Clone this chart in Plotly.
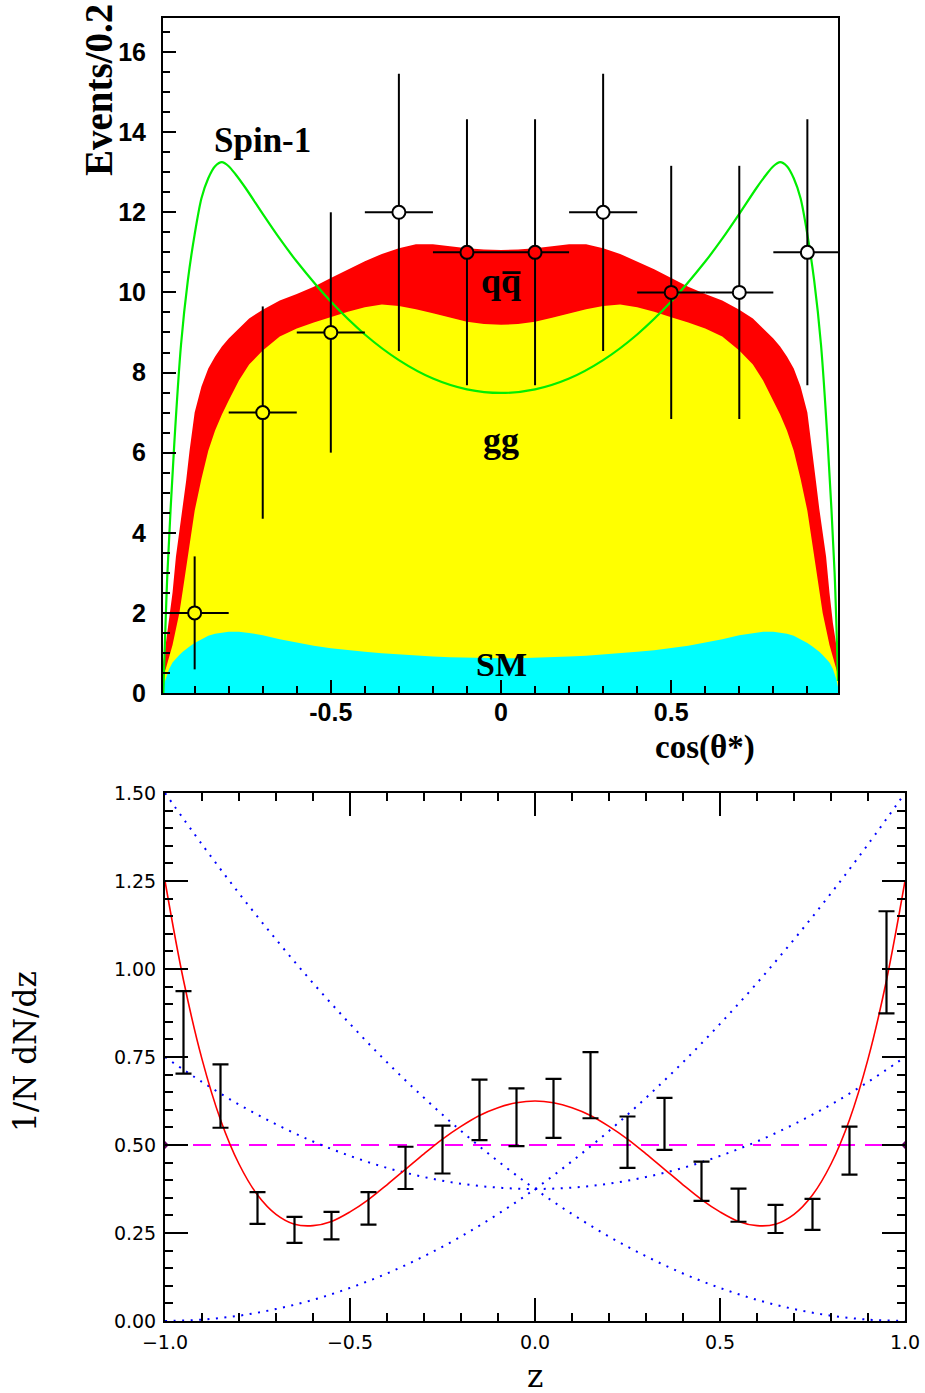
import plotly.graph_objects as go

W, H = 925, 1393

# ---------------- upper panel: cos(theta*) ----------------
cos_bins = [-0.993, -0.985, -0.975, -0.965, -0.955, -0.945, -0.935, -0.925, -0.915,
            -0.90, -0.88, -0.86, -0.84, -0.82, -0.80, -0.77, -0.74, -0.70, -0.65,
            -0.60, -0.55, -0.50, -0.45, -0.40, -0.35, -0.30, -0.25, -0.20, -0.15,
            -0.10, -0.05, 0.00, 0.05, 0.10, 0.15, 0.20, 0.25, 0.30, 0.35, 0.40,
            0.45, 0.50, 0.55, 0.60, 0.65, 0.70, 0.74, 0.77, 0.80, 0.82, 0.84,
            0.86, 0.88, 0.90, 0.915, 0.925, 0.935, 0.945, 0.955, 0.965, 0.975,
            0.985, 0.99]

sm_events = [0.15, 0.35, 0.60, 0.76, 0.86, 0.95, 1.03, 1.10, 1.16, 1.25, 1.35, 1.43,
             1.48, 1.51, 1.53, 1.53, 1.50, 1.44, 1.34, 1.26, 1.18, 1.12, 1.07, 1.03,
             0.99, 0.96, 0.93, 0.91, 0.89, 0.88, 0.87, 0.87, 0.87, 0.88, 0.89, 0.91,
             0.93, 0.96, 0.99, 1.03, 1.07, 1.12, 1.18, 1.26, 1.34, 1.44, 1.50, 1.53,
             1.53, 1.51, 1.48, 1.43, 1.35, 1.25, 1.16, 1.10, 1.03, 0.95, 0.86, 0.76,
             0.60, 0.35, 0.15]

gg_events = [0.30, 0.25, 0.30, 0.44, 0.74, 1.05, 1.52, 2.05, 2.54, 3.30, 4.00, 4.62,
             5.07, 5.44, 5.77, 6.27, 6.70, 7.11, 7.56, 7.84, 8.07, 8.26, 8.45, 8.60,
             8.71, 8.70, 8.65, 8.57, 8.48, 8.39, 8.34, 8.32, 8.34, 8.39, 8.48, 8.57,
             8.65, 8.70, 8.71, 8.60, 8.45, 8.26, 8.07, 7.84, 7.56, 7.11, 6.70, 6.27,
             5.77, 5.44, 5.07, 4.62, 4.00, 3.30, 2.54, 2.05, 1.52, 1.05, 0.74, 0.44,
             0.30, 0.25, 0.30]

qq_events = [0.25, 0.60, 0.85, 1.30, 1.80, 2.00, 2.05, 2.15, 2.35, 2.45, 2.30, 2.05,
             1.85, 1.70, 1.55, 1.30, 1.15, 1.02, 0.90, 0.86, 0.89, 0.98, 1.06, 1.15,
             1.26, 1.44, 1.62, 1.72, 1.78, 1.83, 1.86, 1.87, 1.86, 1.83, 1.78, 1.72,
             1.62, 1.44, 1.26, 1.15, 1.06, 0.98, 0.89, 0.86, 0.90, 1.02, 1.15, 1.30,
             1.55, 1.70, 1.85, 2.05, 2.30, 2.45, 2.35, 2.15, 2.05, 2.00, 1.80, 1.30,
             0.85, 0.60, 0.25]

spin1_x = [-0.992, -0.98, -0.96, -0.94, -0.92, -0.90, -0.88, -0.86, -0.84, -0.82,
           -0.80, -0.78, -0.75, -0.70, -0.65, -0.60, -0.50, -0.40, -0.30, -0.20,
           -0.10, 0.00, 0.10, 0.20, 0.30, 0.40, 0.50, 0.60, 0.65, 0.70, 0.75, 0.78,
           0.80, 0.82, 0.84, 0.86, 0.88, 0.90, 0.92, 0.94, 0.96, 0.98, 0.99]
spin1_y = [0.0, 3.0, 6.2, 8.7, 10.3, 11.45, 12.35, 12.85, 13.15, 13.25,
           13.15, 12.95, 12.6, 11.96, 11.34, 10.77, 9.77, 8.95, 8.31, 7.85,
           7.58, 7.49, 7.58, 7.85, 8.31, 8.95, 9.77, 10.77, 11.34, 11.96, 12.6, 12.95,
           13.15, 13.25, 13.15, 12.85, 12.35, 11.45, 10.3, 8.7, 6.2, 3.0, 0.3]

data_x = [-0.9, -0.7, -0.5, -0.3, -0.1, 0.1, 0.3, 0.5, 0.7, 0.9]
data_n = [2, 7, 9, 12, 11, 11, 12, 10, 10, 11]
data_err = [1.41, 2.65, 3.00, 3.46, 3.32, 3.32, 3.46, 3.16, 3.16, 3.32]
data_halfwidth = [0.1] * 10
# fill of each open circle follows the band it sits on
data_fill = ["#ffff00", "#ffff00", "#ffff00", "#ffffff", "#ff0000",
             "#ff0000", "#ffffff", "#ff0000", "#ffffff", "#ffffff"]

# ---------------- lower panel: z distribution ----------------
z_bins = [-0.95, -0.85, -0.75, -0.65, -0.55, -0.45, -0.35, -0.25, -0.15, -0.05,
          0.05, 0.15, 0.25, 0.35, 0.45, 0.55, 0.65, 0.75, 0.85, 0.95]
dndz = [0.820, 0.639, 0.321, 0.259, 0.271, 0.320, 0.435, 0.487, 0.600, 0.579,
        0.604, 0.670, 0.508, 0.560, 0.397, 0.329, 0.290, 0.303, 0.484, 1.019]
dndz_err = [0.117, 0.090, 0.045, 0.037, 0.039, 0.046, 0.060, 0.068, 0.086, 0.082,
            0.084, 0.094, 0.073, 0.074, 0.056, 0.047, 0.040, 0.044, 0.068, 0.145]

fit_z = [-1.00, -0.95, -0.90, -0.85, -0.80, -0.75, -0.70, -0.65, -0.60, -0.55,
         -0.50, -0.45, -0.40, -0.35, -0.30, -0.25, -0.20, -0.15, -0.10, -0.05,
         0.00, 0.05, 0.10, 0.15, 0.20, 0.25, 0.30, 0.35, 0.40, 0.45, 0.50, 0.55,
         0.60, 0.65, 0.70, 0.75, 0.80, 0.85, 0.90, 0.95, 1.00]
fit_y = [1.250, 0.968, 0.744, 0.572, 0.446, 0.358, 0.303, 0.275, 0.271, 0.283,
         0.310, 0.345, 0.387, 0.431, 0.475, 0.517, 0.553, 0.584, 0.606, 0.620,
         0.625, 0.620, 0.606, 0.584, 0.553, 0.517, 0.475, 0.431, 0.387, 0.345,
         0.310, 0.283, 0.271, 0.275, 0.303, 0.358, 0.446, 0.572, 0.744, 0.968, 1.250]

ref_z = [-1.0, -0.9, -0.8, -0.7, -0.6, -0.5, -0.4, -0.3, -0.2, -0.1, 0.0,
         0.1, 0.2, 0.3, 0.4, 0.5, 0.6, 0.7, 0.8, 0.9, 1.0]
falling = [1.500, 1.354, 1.215, 1.084, 0.960, 0.844, 0.735, 0.634, 0.540, 0.454, 0.375,
           0.304, 0.240, 0.184, 0.135, 0.094, 0.060, 0.034, 0.015, 0.004, 0.000]
rising = [0.000, 0.004, 0.015, 0.034, 0.060, 0.094, 0.135, 0.184, 0.240, 0.304, 0.375,
          0.454, 0.540, 0.634, 0.735, 0.844, 0.960, 1.084, 1.215, 1.354, 1.500]
symmetric = [0.750, 0.679, 0.615, 0.559, 0.510, 0.469, 0.435, 0.409, 0.390, 0.379, 0.375,
             0.379, 0.390, 0.409, 0.435, 0.469, 0.510, 0.559, 0.615, 0.679, 0.750]
flat_z = [-1.0, 1.0]
flat_y = [0.5, 0.5]


def px(x):
    return x / W


def py(y):
    return 1 - y / H


fig = go.Figure()

# stacked histogram bands: SM, SM+gg, SM+gg+qq
sm_top = sm_events
gg_top = [a + b for a, b in zip(sm_events, gg_events)]
tot_top = [a + b for a, b in zip(gg_top, qq_events)]
for yvals, col in [(tot_top, "#ff0000"), (gg_top, "#ffff00"), (sm_top, "#00ffff")]:
    fig.add_trace(go.Scatter(x=cos_bins, y=yvals, mode="lines", fill="tozeroy",
                             fillcolor=col, line=dict(width=0, color=col),
                             xaxis="x", yaxis="y", hoverinfo="skip"))

fig.add_trace(go.Scatter(x=spin1_x, y=spin1_y, mode="lines",
                         line=dict(color="#00ee00", width=2.2, shape="spline", smoothing=0.8),
                         xaxis="x", yaxis="y"))

fig.add_trace(go.Scatter(
    x=data_x, y=data_n, mode="markers",
    marker=dict(symbol="circle", size=13, color=data_fill,
                line=dict(color="black", width=2)),
    error_y=dict(type="data", array=data_err, color="black", thickness=2, width=0),
    error_x=dict(type="data", array=data_halfwidth, color="black", thickness=2, width=0),
    xaxis="x", yaxis="y"))

# lower panel curves
fig.add_trace(go.Scatter(x=flat_z, y=flat_y, mode="lines+markers",
                         line=dict(color="#ff00ff", width=2, dash="18px,10px"),
                         marker=dict(symbol="diamond", size=6, color="#600060"),
                         xaxis="x2", yaxis="y2"))
for yvals in (falling, rising, symmetric):
    fig.add_trace(go.Scatter(x=ref_z, y=yvals, mode="lines",
                             line=dict(color="#0000ff", width=2, dash="2px,6.5px",
                                       shape="spline"),
                             xaxis="x2", yaxis="y2"))
fig.add_trace(go.Scatter(x=fit_z, y=fit_y, mode="lines",
                         line=dict(color="#ff0000", width=1.6, shape="spline"),
                         xaxis="x2", yaxis="y2"))
fig.add_trace(go.Scatter(
    x=z_bins, y=dndz, mode="markers",
    marker=dict(size=1, color="rgba(0,0,0,0)"),
    error_y=dict(type="data", array=dndz_err, color="black", thickness=2.2, width=8),
    xaxis="x2", yaxis="y2"))

bold_ticks = dict(family="Liberation Sans", size=25, color="black", weight="bold")
thin_ticks = dict(family="DejaVu Sans", size=19, color="black")

fig.update_layout(
    width=W, height=H, margin=dict(l=0, r=0, t=0, b=0, autoexpand=False),
    paper_bgcolor="white", plot_bgcolor="white", showlegend=False,
    xaxis=dict(domain=[px(163), px(838)], range=[-0.993, 0.99], anchor="y",
               showline=True, linecolor="black", linewidth=2, mirror=True,
               showgrid=False, zeroline=False, automargin=False,
               ticks="inside", ticklen=13, tickwidth=2, tickcolor="black",
               tickmode="array", tickvals=[-0.5, 0, 0.5], ticktext=["-0.5", "0", "0.5"],
               tickfont=bold_ticks, ticklabelstandoff=-4,
               minor=dict(tickmode="linear", tick0=0, dtick=0.1, ticks="inside",
                          ticklen=7, tickwidth=2, tickcolor="black")),
    yaxis=dict(domain=[py(693), py(18)], range=[0, 16.85], anchor="x",
               showline=True, linecolor="black", linewidth=2, mirror=True,
               showgrid=False, zeroline=False, automargin=False,
               ticks="inside", ticklen=13, tickwidth=2, tickcolor="black",
               tickmode="linear", tick0=0, dtick=2, tickfont=bold_ticks,
               ticklabelstandoff=10,
               minor=dict(tickmode="linear", tick0=0, dtick=0.5, ticks="inside",
                          ticklen=7, tickwidth=2, tickcolor="black")),
    xaxis2=dict(domain=[px(165), px(905)], range=[-1, 1], anchor="y2",
                showline=True, linecolor="black", linewidth=2, mirror="allticks",
                showgrid=False, zeroline=False, automargin=False,
                ticks="inside", ticklen=23, tickwidth=2, tickcolor="black",
                tickmode="linear", tick0=0, dtick=0.5, tickformat=".1f",
                tickfont=thin_ticks, ticklabelstandoff=3,
                minor=dict(tickmode="linear", tick0=0, dtick=0.1, ticks="inside",
                           ticklen=8, tickwidth=2, tickcolor="black")),
    yaxis2=dict(domain=[py(1321), py(793)], range=[0, 1.5], anchor="x2",
                showline=True, linecolor="black", linewidth=2, mirror="allticks",
                showgrid=False, zeroline=False, automargin=False,
                ticks="inside", ticklen=23, tickwidth=2, tickcolor="black",
                tickmode="linear", tick0=0, dtick=0.25, tickformat=".2f",
                tickfont=thin_ticks, ticklabelstandoff=3,
                minor=dict(tickmode="linear", tick0=0, dtick=0.05, ticks="inside",
                           ticklen=8, tickwidth=2, tickcolor="black")),
)

serif_bold = dict(family="Liberation Serif", color="black", weight="bold")


def label(text, x, y, size, font=serif_bold, angle=0, xanchor="center"):
    fig.add_annotation(text=text, x=px(x), y=py(y), xref="paper", yref="paper",
                       showarrow=False, xanchor=xanchor, yanchor="middle",
                       textangle=angle, font=dict(font, size=size))


label("Events/0.2", 98, 90, 39, angle=-90)
label("Spin-1", 262, 140, 35)
label("qq\u0305", 501, 281, 36)
label("gg", 501, 440, 36)
label("SM", 501, 664, 34)
label("cos(\u03b8*)", 705, 747, 33)

serif_thin = dict(family="DejaVu Serif", color="black")
label("1/N dN/dz", 25, 1052, 31, font=serif_thin, angle=-90)
label("z", 535, 1376, 31, font=serif_thin)

fig.write_html("out.html")
